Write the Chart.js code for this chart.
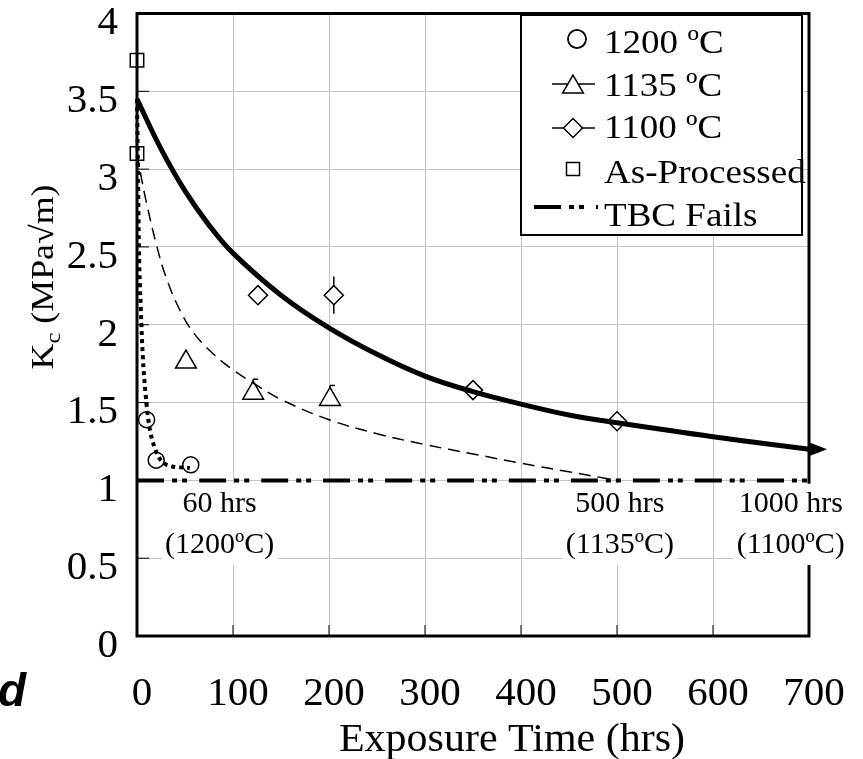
<!DOCTYPE html>
<html>
<head>
<meta charset="utf-8">
<script src="https://cdn.jsdelivr.net/npm/chart.js@4.4.0/dist/chart.umd.min.js"></script>
<style>
  html, body { margin: 0; padding: 0; background: #fff; }
  #c { display: block; }
</style>
</head>
<body>
<canvas id="c" width="863" height="759"></canvas>
<script>
// ---- data ----
const xTicks = [0, 100, 200, 300, 400, 500, 600, 700];
const yTicks = [0, 0.5, 1, 1.5, 2, 2.5, 3, 3.5, 4];
const yTickLabels = ['0', '0.5', '1', '1.5', '2', '2.5', '3', '3.5', '4'];

// measured points
const c1200X = [10, 20, 56];
const c1200Y = [1.39, 1.13, 1.10];
const t1135X = [51, 121, 201];
const t1135Y = [1.76, 1.56, 1.52];
const t1135ErrUp = [0, 0.09, 0.09];
const d1100X = [126, 205, 350, 500];
const d1100Y = [2.19, 2.19, 1.58, 1.38];
const d1100Err = [0, 0.12, 0, 0];
const asProcX = [0, 0];
const asProcY = [3.70, 3.10];

// fitted trend curves
const fit1100X = [0, 25, 50, 75, 100, 150, 200, 250, 300, 350, 400, 450, 500, 600, 700];
const fit1100Y = [3.45, 3.13, 2.86, 2.64, 2.46, 2.19, 1.98, 1.81, 1.67, 1.57, 1.49, 1.42, 1.37, 1.28, 1.20];
const fit1135X = [0, 5, 10, 20, 30, 45, 60, 80, 100, 125, 150, 200, 250, 300, 350, 400, 450, 500];
const fit1135Y = [3.10, 2.93, 2.78, 2.52, 2.31, 2.09, 1.94, 1.81, 1.71, 1.61, 1.52, 1.39, 1.30, 1.23, 1.17, 1.11, 1.055, 1.00];
const fit1200X = [0, 1, 2, 4, 6, 9, 12, 19, 31, 55];
const fit1200Y = [3.45, 3.0, 2.5, 2.1, 1.8, 1.55, 1.38, 1.2, 1.1, 1.08];
const tbcX = [0, 700];
const tbcY = [1, 1];

// failure-time notes
const noteX = [86, 503, 681];
const noteTop = ['60 hrs', '500 hrs', '1000 hrs'];
const noteBottom = ['(1200ºC)', '(1135ºC)', '(1100ºC)'];

const serif = '"Liberation Serif", "Times New Roman", serif';
const zip = (xs, ys) => xs.map((x, i) => ({ x, y: ys[i] }));

function text(ctx, str, x, y, size, align, sx = 1) {
  ctx.save();
  ctx.translate(x, y);
  ctx.scale(sx, 1);
  ctx.font = `${size}px ${serif}`;
  ctx.textAlign = align;
  ctx.textBaseline = 'middle';
  ctx.fillStyle = '#000';
  ctx.fillText(str, 0, 0);
  ctx.restore();
}

function line(ctx, x1, y1, x2, y2) {
  ctx.beginPath(); ctx.moveTo(x1, y1); ctx.lineTo(x2, y2); ctx.stroke();
}

const decor = {
  id: 'decor',
  beforeDatasetsDraw(chart) {
    const { ctx, scales: { x, y } } = chart;
    ctx.save();
    ctx.strokeStyle = '#000';
    ctx.lineWidth = 1.5;
    // error bars sit under the white markers
    d1100X.forEach((v, i) => {
      if (!d1100Err[i]) return;
      const px = x.getPixelForValue(v);
      line(ctx, px, y.getPixelForValue(d1100Y[i] + d1100Err[i]), px, y.getPixelForValue(d1100Y[i] - d1100Err[i]));
    });
    t1135X.forEach((v, i) => {
      if (!t1135ErrUp[i]) return;
      const px = x.getPixelForValue(v);
      const top = y.getPixelForValue(t1135Y[i] + t1135ErrUp[i]);
      line(ctx, px, top, px, y.getPixelForValue(t1135Y[i]));
      line(ctx, px, top, px + 5, top);
    });
    ctx.restore();
  },
  afterDraw(chart) {
    const { ctx, chartArea: ca, scales: { x, y } } = chart;
    ctx.save();
    ctx.strokeStyle = '#000';

    // inner tick marks
    ctx.lineWidth = 1;
    yTicks.forEach(v => line(ctx, ca.left, y.getPixelForValue(v), ca.left + 12, y.getPixelForValue(v)));
    xTicks.forEach(v => line(ctx, x.getPixelForValue(v), ca.bottom, x.getPixelForValue(v), ca.bottom - 11));

    // frame
    ctx.lineWidth = 3;
    ctx.strokeRect(ca.left, ca.top, ca.right - ca.left, ca.bottom - ca.top);

    // arrow on the 1100 trend
    const ax = x.getPixelForValue(fit1100X[fit1100X.length - 1]);
    const ay = y.getPixelForValue(fit1100Y[fit1100Y.length - 1]);
    ctx.fillStyle = '#000';
    ctx.beginPath();
    ctx.moveTo(ax, ay - 7); ctx.lineTo(ax + 18, ay); ctx.lineTo(ax, ay + 7);
    ctx.closePath(); ctx.fill();

    // failure notes on white
    noteX.forEach((v, i) => {
      const px = x.getPixelForValue(v);
      const y1 = y.getPixelForValue(0.85), y2 = y.getPixelForValue(0.585);
      ctx.font = `30px ${serif}`;
      const w = Math.max(ctx.measureText(noteTop[i]).width, ctx.measureText(noteBottom[i]).width);
      ctx.fillStyle = '#fff';
      ctx.fillRect(px - w / 2 - 3, y1 - 20, w + 6, y2 - y1 + 40);
      text(ctx, noteTop[i], px, y1, 30, 'center');
      text(ctx, noteBottom[i], px, y2, 30, 'center');
    });

    // legend
    ctx.fillStyle = '#fff';
    ctx.fillRect(521, 15, 281, 220);
    ctx.lineWidth = 2;
    ctx.strokeRect(521, 15, 281, 220);
    ctx.lineWidth = 1.5;
    ctx.fillStyle = '#fff';
    Chart.helpers.drawPoint(ctx, { pointStyle: 'circle', radius: 9, borderWidth: 1.5 }, 577, 39);
    ctx.stroke();
    line(ctx, 552, 84, 595, 84);
    ctx.beginPath(); Chart.helpers.drawPoint(ctx, { pointStyle: 'triangle', radius: 12 }, 573, 87);
    ctx.fill(); ctx.stroke();
    line(ctx, 552, 128, 595, 128);
    ctx.beginPath(); Chart.helpers.drawPoint(ctx, { pointStyle: 'rectRot', radius: 9.5 }, 573, 128);
    ctx.fill(); ctx.stroke();
    ctx.strokeRect(566.5, 162.5, 13, 13);
    ctx.save();
    ctx.lineWidth = 4;
    ctx.setLineDash([27, 8, 5, 5, 5, 12]);
    line(ctx, 534, 207, 598, 207);
    ctx.restore();
    const legendText = ['1200 ºC', '1135 ºC', '1100 ºC', 'As-Processed', 'TBC Fails'];
    const legendY = [44, 87, 129, 174, 217];
    legendText.forEach((t, i) => text(ctx, t, 604, legendY[i], 34, 'left', 1.09));

    // tick labels
    yTicks.forEach((v, i) => text(ctx, yTickLabels[i], 118, y.getPixelForValue(v) + 10, 41, 'right'));
    xTicks.forEach(v => text(ctx, String(v), x.getPixelForValue(v) + 5, 694, 41, 'center'));

    // axis titles
    text(ctx, 'Exposure Time (hrs)', 512, 740, 40, 'center', 1.05);
    ctx.save();
    ctx.translate(45, 277);
    ctx.rotate(-Math.PI / 2);
    ctx.font = `32px ${serif}`;
    const wK = ctx.measureText('K').width;
    ctx.font = `22px ${serif}`;
    const wc = ctx.measureText('c').width;
    ctx.font = `32px ${serif}`;
    const rest = ' (MPa√m)';
    const total = wK + wc + ctx.measureText(rest).width;
    ctx.scale(1.12, 1);
    let cx = -total / 2;
    ctx.fillStyle = '#000';
    ctx.textBaseline = 'middle';
    ctx.textAlign = 'left';
    ctx.fillText('K', cx, 0); cx += wK;
    ctx.font = `22px ${serif}`;
    ctx.fillText('c', cx, 9); cx += wc;
    ctx.font = `32px ${serif}`;
    ctx.fillText(rest, cx, 0);
    ctx.restore();

    // panel letter
    ctx.font = 'italic bold 46px "Liberation Sans", Arial, sans-serif';
    ctx.fillStyle = '#000';
    ctx.textAlign = 'left';
    ctx.textBaseline = 'middle';
    ctx.fillText('d', -2, 693);
    ctx.restore();
  }
};

const marker = (data, pointStyle, radius) => ({
  data, pointStyle, pointRadius: radius, showLine: false, clip: false,
  pointBackgroundColor: '#fff', pointBorderColor: '#000', pointBorderWidth: 1.5
});
const curve = (data, width, dash, mode) => ({
  data, showLine: true, pointRadius: 0, borderColor: '#000', borderWidth: width,
  borderDash: dash, tension: 0.4, cubicInterpolationMode: mode, clip: false, borderCapStyle: 'butt'
});

new Chart(document.getElementById('c').getContext('2d'), {
  type: 'scatter',
  data: {
    datasets: [
      curve(zip(fit1100X, fit1100Y), 5, [], 'default'),
      curve(zip(fit1135X, fit1135Y), 1.5, [12, 7], 'default'),
      curve(zip(fit1200X, fit1200Y), 4, [4, 4], 'monotone'),
      curve(zip(tbcX, tbcY), 4, [27, 8, 5, 5, 5, 12], 'default'),
      marker(zip(c1200X, c1200Y), 'circle', 8),
      marker(zip(t1135X, t1135Y), 'triangle', 12),
      marker(zip(d1100X, d1100Y), 'rectRot', 9.5),
      marker(zip(asProcX, asProcY), 'rect', 9.5)
    ]
  },
  options: {
    responsive: false,
    animation: false,
    devicePixelRatio: 1,
    layout: { padding: { left: 137, right: 54, top: 8, bottom: 123 } },
    plugins: { legend: { display: false }, tooltip: { enabled: false } },
    scales: {
      x: {
        type: 'linear', min: 0, max: 700,
        ticks: { display: false, stepSize: 100 },
        grid: { color: '#c4c4c4', lineWidth: 1, drawTicks: false },
        border: { display: false },
        afterFit(s) { s.height = 0; }
      },
      y: {
        min: 0, max: 4,
        ticks: { display: false, stepSize: 0.5 },
        grid: { color: '#c4c4c4', lineWidth: 1, drawTicks: false },
        border: { display: false },
        afterFit(s) { s.width = 0; }
      }
    }
  },
  plugins: [decor]
});
</script>
</body>
</html>
